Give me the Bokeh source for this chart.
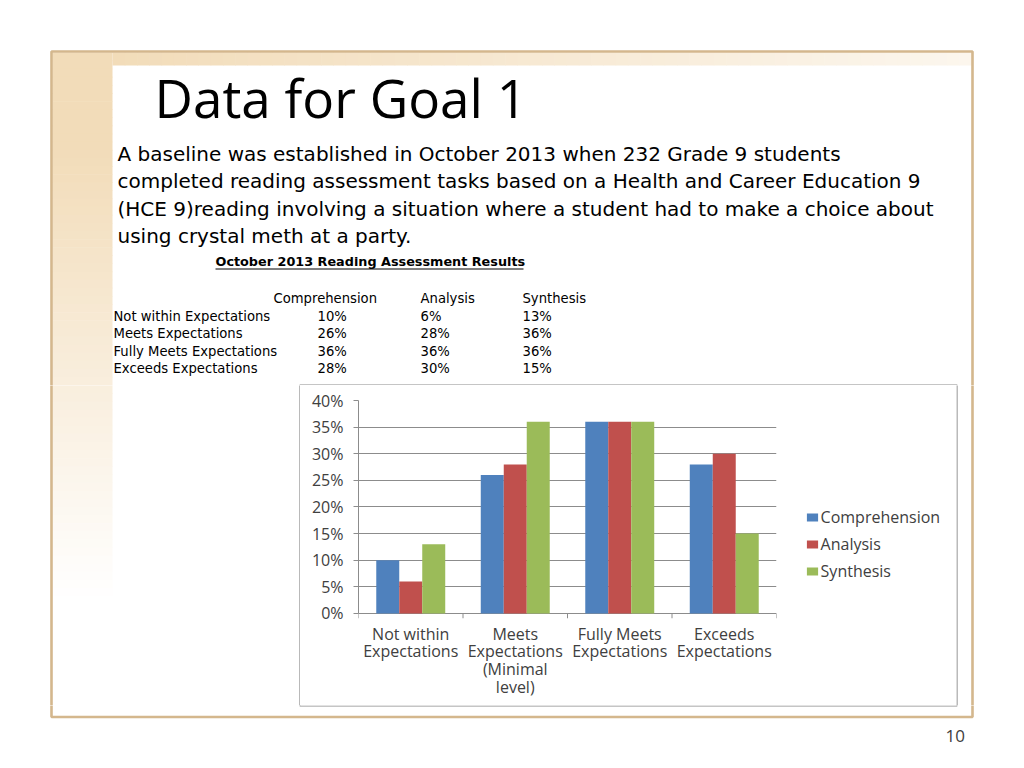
import numpy as np
from bokeh.plotting import figure
from bokeh.layouts import column, row
from bokeh.models import (Range1d, FactorRange, FixedTicker, Legend, LegendItem,
                          PrintfTickFormatter, ColumnDataSource)
from bokeh.transform import dodge
from bokeh.core.properties import value
from bokeh.embed import file_html
from bokeh.resources import INLINE

# ---------------- data ----------------
title = "Data for Goal 1"
body_lines = [
    "A baseline was established in October  2013 when 232 Grade 9 students",
    "completed reading assessment tasks based on a Health and Career Education 9",
    "(HCE 9)reading involving a situation where a student had to make a choice about",
    "using crystal meth at a party.",
]
table_title = "October 2013 Reading Assessment Results"
table_rows = ["Not within Expectations", "Meets Expectations",
              "Fully Meets Expectations", "Exceeds Expectations"]
categories = ["Not within\nExpectations", "Meets\nExpectations\n(Minimal\nlevel)",
              "Fully Meets\nExpectations", "Exceeds\nExpectations"]
series_names = ["Comprehension", "Analysis", "Synthesis"]
comprehension = [10, 26, 36, 28]
analysis = [6, 28, 36, 30]
synthesis = [13, 36, 36, 15]
y_ticks = [0, 5, 10, 15, 20, 25, 30, 35, 40]
page_number = "10"

# ---------------- styles ----------------
TAN = "#D4B78D"
CREAM = (242, 220, 185)
GRAY = "#8C8C8C"
TXT = "#404040"
COLORS = ["#4F81BD", "#C0504D", "#9BBB59"]
SANS = value("DejaVu Sans")
CHART_FS = "16px"
K = 0.4  # baseline compensation (fraction of font size)


def blend(a):
    r, g, b = [int(round(255 * (1 - a) + c * a)) for c in CREAM]
    return "#%02x%02x%02x" % (r, g, b)


def draw_frame(p):
    n = 70
    ys = np.linspace(52, 620, n + 1)
    mid = (ys[:-1] + ys[1:]) / 2
    alpha = np.clip(1 - (mid - 150) / 450, 0, 1)
    p.quad(left=52, right=112, top=ys[:-1], bottom=ys[1:] + 0.6,
           fill_color=[blend(a) for a in alpha], line_color=None)
    xs = np.linspace(112, 971, n + 1)
    midx = (xs[:-1] + xs[1:]) / 2
    ax = np.clip(1 - 0.75 * (midx - 112) / 859, 0, 1)
    p.quad(left=xs[:-1], right=xs[1:] + 0.6, top=52, bottom=65,
           fill_color=[blend(a) for a in ax], line_color=None)
    p.quad(left=51, right=972, top=51, bottom=716.5, fill_color=None,
           line_color=TAN, line_width=2.6)
    p.quad(left=299.5, right=956.5, top=384.5, bottom=705.5, fill_color=None,
           line_color=GRAY, line_width=1.2)


def bare_fig(w, h, xr, yr):
    p = figure(width=w, height=h, x_range=xr, y_range=yr, output_backend="svg",
               toolbar_location=None, min_border=0, x_axis_type=None, y_axis_type=None)
    p.outline_line_color = None
    p.background_fill_color = "white"
    p.border_fill_color = "white"
    p.grid.visible = False
    return p


def page_fig(x0, y0, x1, y1):
    p = bare_fig(x1 - x0, y1 - y0, Range1d(x0, x1), Range1d(y1, y0))
    draw_frame(p)
    return p


def put_text(p, xs, ys, texts, font, size, **kw):
    p.text(x=xs, y=[y - K * size for y in ys], text=texts, text_font=font,
           text_font_size=f"{size}px", text_baseline="alphabetic", **kw)


# ---------------- top part of the slide ----------------
top = page_fig(0, 0, 1024, 385)
put_text(top, [154], [118], [title], value("Open Sans"), 53, text_color="black")
put_text(top, [117] * 4, [161, 188.5, 216, 243.5], body_lines, SANS, 20,
         text_color="black")
put_text(top, [215], [266], [table_title], SANS, 12.8, text_font_style="bold",
         text_color="black")
top.segment(x0=[215], x1=[523], y0=[268.5], y1=[268.5], line_color="black", line_width=1)
put_text(top, [273, 420, 522], [303] * 3, series_names, SANS, 13.2, text_color="black")
row_y = [321, 338.5, 356, 373.5]
put_text(top, [113] * 4, row_y, table_rows, SANS, 13.2, text_color="black")
for col_x, vals in zip([317, 420, 522], [comprehension, analysis, synthesis]):
    put_text(top, [col_x] * 4, row_y, [f"{v}%" for v in vals], SANS, 13.2,
             text_color="black")

# ---------------- middle: side fillers + chart + legend ----------------
left = page_fig(0, 385, 300, 705)
right = page_fig(956, 385, 1024, 705)

TICK_DEPTH = -0.94  # ~5px below the 0% line, room for Excel-style boundary ticks
chart = figure(width=490, height=320, x_range=FactorRange(*categories),
               y_range=Range1d(TICK_DEPTH, 40), output_backend="svg",
               toolbar_location=None, min_border_left=58, min_border_right=14,
               min_border_top=15, min_border_bottom=87)
chart.outline_line_color = None
chart.background_fill_color = "white"
chart.border_fill_color = "white"
chart.xgrid.visible = False
chart.ygrid.ticker = FixedTicker(ticks=y_ticks)
chart.ygrid.grid_line_color = GRAY
chart.ygrid.grid_line_width = 1

ya = chart.yaxis[0]
ya.ticker = FixedTicker(ticks=y_ticks)
ya.bounds = (y_ticks[0], y_ticks[-1])
ya.formatter = PrintfTickFormatter(format="%d%%")
ya.axis_line_color = GRAY
ya.major_tick_line_color = GRAY
ya.major_tick_out = 5
ya.major_tick_in = 0
ya.minor_tick_line_color = None
ya.major_label_standoff = 10
ya.major_label_text_font = "Open Sans"
ya.major_label_text_font_size = CHART_FS
ya.major_label_text_color = TXT

xa = chart.xaxis[0]
xa.axis_line_color = None
xa.major_tick_line_color = None
xa.minor_tick_line_color = None
xa.major_label_text_font = "Open Sans"
xa.major_label_text_font_size = CHART_FS
xa.major_label_text_color = TXT
xa.major_label_text_line_height = 0.815
xa.major_label_standoff = -2

edges = list(range(len(categories) + 1))
chart.segment(x0=edges, x1=edges, y0=[0] * len(edges), y1=[TICK_DEPTH] * len(edges),
              line_color=GRAY, line_width=1)

src = ColumnDataSource(dict(cat=categories, comprehension=comprehension,
                            analysis=analysis, synthesis=synthesis))
offsets = [-0.22, 0.0, 0.22]
for key, off, col in zip(["comprehension", "analysis", "synthesis"], offsets, COLORS):
    chart.vbar(x=dodge("cat", off, range=chart.x_range), top=key, bottom=0,
               width=0.22, source=src, fill_color=col, line_color=None)

# legend panel (separate canvas so it is not clipped by the chart frame);
# its swatch renderers hold one zero-height bar placed outside the visible range
leg = bare_fig(166, 320, Range1d(0, 1), Range1d(0, 1))
items = []
for name, col in zip(series_names, COLORS):
    r = leg.vbar(x=[-1], top=[0], bottom=[0], width=0.1, fill_color=col, line_color=None)
    items.append(LegendItem(label=name, renderers=[r]))
legend = Legend(items=items, location=(14.6, 123), orientation="vertical",
                padding=0, margin=0, spacing=5, glyph_width=14, glyph_height=10,
                label_height=20, label_standoff=2,
                label_text_font="Open Sans", label_text_font_size=CHART_FS,
                label_text_color=TXT, border_line_color=None,
                background_fill_alpha=0)
leg.add_layout(legend)

# ---------------- bottom ----------------
bottom = page_fig(0, 705, 1024, 766)
put_text(bottom, [945], [742], [page_number], value("Open Sans"), 17, text_color=TXT)

layout = column(top, row(column(left), column(chart), column(leg), column(right)), bottom)
open("out.html", "w").write(file_html(layout, INLINE))
